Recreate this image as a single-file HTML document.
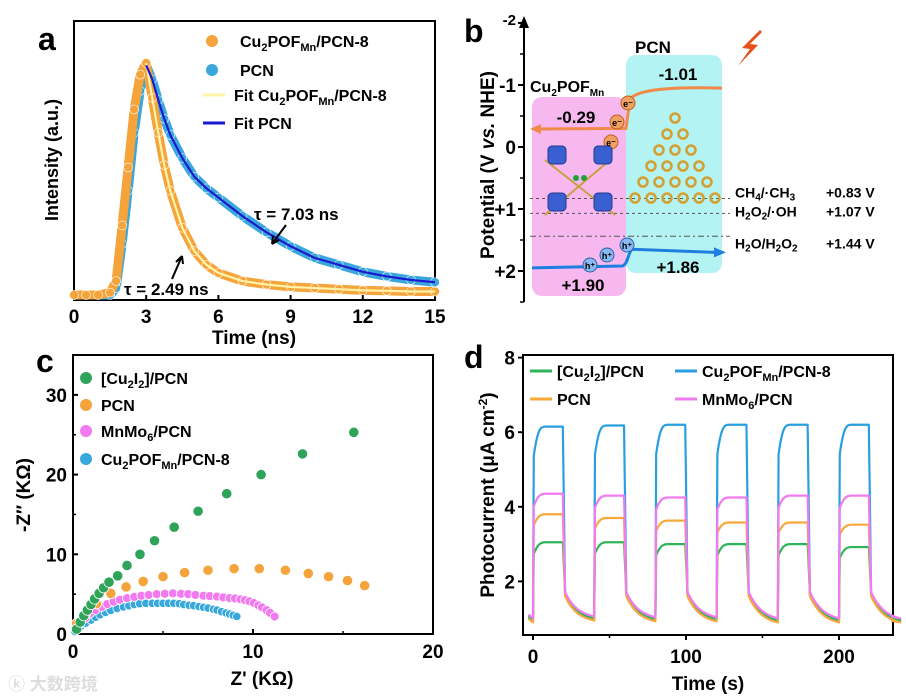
<!DOCTYPE html>
<html><head><meta charset="utf-8">
<style>
html,body{margin:0;padding:0;background:#fff;}
svg{display:block;font-family:"Liberation Sans",Arial,sans-serif;font-weight:bold;}
</style></head>
<body>
<svg id="fig" width="906" height="700" viewBox="0 0 906 700" xmlns="http://www.w3.org/2000/svg">
<text x="38" y="50" font-size="32">a</text>
<text x="464" y="42" font-size="32">b</text>
<text x="36" y="372" font-size="32">c</text>
<text x="464" y="368" font-size="32">d</text>

<g id="pa"></g>
<g id="pb"></g>
<g id="pc"></g>
<g id="pd"></g>
</svg>
<script>
// ---------- Panel a data ----------
const aTimes = [0,0.5,1,1.5,1.75,2,2.25,2.5,2.75,3,3.25,3.5,3.75,4,4.5,5,5.5,6,7,8,9,10,11,12,13,14,15];
const aCuPOF = [0,0,0,0.01,0.06,0.3,0.55,0.8,0.95,1.0,0.85,0.7,0.56,0.45,0.29,0.19,0.13,0.095,0.06,0.045,0.035,0.03,0.025,0.02,0.018,0.015,0.015];
const aPCN   = [0,0,0,0,0.03,0.22,0.45,0.7,0.88,0.99,0.93,0.84,0.76,0.69,0.59,0.51,0.46,0.42,0.34,0.27,0.21,0.16,0.13,0.1,0.08,0.065,0.055];
const aXTicks = [0,3,6,9,12,15];
// ---------- Panel b data ----------
const bTicks = [-2,-1,0,1,2];
const bRefLevels = [0.83,1.07,1.44];
// ---------- Panel c data ----------
const cGreenX = [0.2,0.4,0.6,0.8,1.0,1.2,1.45,1.7,2.0,2.48,3.0,3.72,4.53,5.62,6.95,8.54,10.45,12.75,15.6];
const cGreenY = [0.6,1.5,2.3,3.0,3.7,4.4,5.1,5.8,6.5,7.3,8.6,10.0,11.7,13.4,15.4,17.6,20.0,22.6,25.3];
const cOrangeX = [0.2,0.7,1.3,2.1,2.95,3.9,5.0,6.2,7.5,8.95,10.35,11.8,13.07,14.2,15.25,16.2];
const cOrangeY = [1.3,2.6,3.8,5.1,5.9,6.6,7.2,7.7,8.0,8.2,8.2,8.0,7.6,7.2,6.7,6.07];
const cPinkX = [0.15,0.4,0.7,0.95,1.25,1.6,1.9,2.25,2.6,3.0,3.4,3.8,4.2,4.65,5.1,5.55,6.0,6.4,6.8,7.25,7.6,8.0,8.35,8.7,9.0,9.3,9.55,9.8,10.05,10.3,10.5,10.75,10.95,11.2];
const cPinkY = [0.6,1.3,2.0,2.6,3.0,3.4,3.75,4.05,4.3,4.5,4.65,4.8,4.9,5.0,5.05,5.1,5.05,5.0,4.9,4.8,4.75,4.7,4.6,4.5,4.45,4.35,4.25,4.1,3.9,3.6,3.35,3.0,2.65,2.2];
const cBlueX = [0.1,0.2,0.45,0.7,1.0,1.25,1.5,1.8,2.1,2.45,2.8,3.1,3.4,3.7,4.05,4.4,4.7,5.0,5.3,5.6,5.9,6.15,6.45,6.7,7.0,7.25,7.5,7.8,8.0,8.25,8.5,8.7,8.9,9.1];
const cBlueY = [0.3,0.6,1.0,1.35,1.75,2.1,2.4,2.7,2.95,3.2,3.4,3.55,3.7,3.8,3.85,3.85,3.85,3.85,3.85,3.85,3.8,3.7,3.6,3.55,3.45,3.35,3.25,3.1,3.0,2.8,2.65,2.5,2.35,2.2];
const cXTicks = [0,10,20];
const cYTicks = [0,10,20,30];
// ---------- Panel d data ----------
const dCycleStarts = [0,40,80,120,160,200];
const dBlueOn   = [6.15,6.18,6.2,6.2,6.2,6.2];
const dPinkOn   = [4.35,4.3,4.25,4.25,4.3,4.3];
const dOrangeOn = [3.8,3.7,3.63,3.58,3.58,3.52];
const dGreenOn  = [3.05,3.05,3.0,3.0,3.0,2.92];
const dBase     = [0.95,1.0,0.98,0.98,0.95,0.95];
const dXTicks = [0,100,200];
const dYTicks = [2,4,6,8];

const NS="http://www.w3.org/2000/svg";
function mk(parent,tag,attrs,text){const e=document.createElementNS(NS,tag);for(const k in attrs)e.setAttribute(k,attrs[k]);if(text!==undefined)e.textContent=text;parent.appendChild(e);return e;}

// ================= PANEL A =================
(function(){
const g=document.getElementById('pa');
const X0=74,X1=435,Y0=21,Y1=300;
const sx=t=>X0+(t/15)*(X1-X0);
const sy=v=>295-v*232;
let f=mk(g,'rect',{x:X0,y:Y0,width:X1-X0,height:Y1-Y0,fill:'none',stroke:'#000','stroke-width':2});

aXTicks.forEach(t=>{
  let l=mk(g,'line',{x1:sx(t),x2:sx(t),y1:Y1,y2:Y1-5,stroke:'#000','stroke-width':2});
  
  let tx=mk(g,'text',{x:sx(t),y:323,'font-size':19,'text-anchor':'middle'},String(t));
  
});
function series(ys,col,name){
  const pts=aTimes.map((t,i)=>sx(t)+','+sy(ys[i])).join(' ');
  let pl=mk(g,'polyline',{points:pts,fill:'none',stroke:col,'stroke-width':9,'stroke-linejoin':'round'});
  
  aTimes.forEach((t,i)=>{let c=mk(g,'circle',{cx:sx(t),cy:sy(ys[i]),r:4.5,fill:col,stroke:'#fff','stroke-width':0.6});
  });
}
series(aPCN,'#3aa6dc','pcn');
series(aCuPOF,'#f4a43a','cupof');
function fit(ys,col,name,peakIdx){
  const pts=aTimes.slice(peakIdx).map((t,j)=>sx(t)+','+sy(ys[j+peakIdx])).join(' ');
  let pl=mk(g,'polyline',{points:pts,fill:'none',stroke:col,'stroke-width':2.2,'stroke-linejoin':'round'});
  
}
fit(aCuPOF,'#fff3a8','fit-cupof',9);
fit(aPCN,'#1a1ad0','fit-pcn',9);
let yt=mk(g,'text',{x:0,y:0,'font-size':18,'text-anchor':'middle',transform:'translate(58,160) rotate(-90)'},'Intensity (a.u.)');

let xt=mk(g,'text',{x:254,y:344,'font-size':19,'text-anchor':'middle'},'Time (ns)');

let t1=mk(g,'text',{x:254,y:220,'font-size':17},'τ = 7.03 ns');
let a1=mk(g,'path',{d:'M286,225 L272,244 M272,244 L273,236 M272,244 L279,240',stroke:'#000','stroke-width':2,fill:'none'});
let t2=mk(g,'text',{x:124,y:295,'font-size':17},'τ = 2.49 ns');
let a2=mk(g,'path',{d:'M172,279 L182,256 M182,256 L176,262 M182,256 L183,264',stroke:'#000','stroke-width':2,fill:'none'});
const L=[{y:47,t:'circ',c:'#f4a43a',s:'Cu<tspan font-size="11" dy="4">2</tspan><tspan dy="-4">POF</tspan><tspan font-size="11" dy="4">Mn</tspan><tspan dy="-4">/PCN-8</tspan>',x:240},
{y:76,t:'circ',c:'#3aa6dc',s:'PCN',x:240},
{y:101,t:'line',c:'#fff3a8',s:'Fit Cu<tspan font-size="11" dy="4">2</tspan><tspan dy="-4">POF</tspan><tspan font-size="11" dy="4">Mn</tspan><tspan dy="-4">/PCN-8</tspan>',x:234},
{y:129,t:'line',c:'#1a1ad0',s:'Fit PCN',x:234}];
L.forEach((e,i)=>{
  let m = e.t==='circ'? mk(g,'circle',{cx:212,cy:e.y-6,r:6,fill:e.c}) : mk(g,'line',{x1:203,x2:225,y1:e.y-6,y2:e.y-6,stroke:e.c,'stroke-width':3});
  
  let tx=mk(g,'text',{x:e.x,y:e.y,'font-size':16});tx.innerHTML=e.s;
  
});
})();

// ================= PANEL B =================
(function(){
const g=document.getElementById('pb');
const sy=v=>147+v*62;
let pk=mk(g,'rect',{x:532,y:97,width:94,height:199,rx:10,fill:'#f7b8f0'});
let cy=mk(g,'rect',{x:626,y:55,width:96,height:218,rx:10,fill:'#b3f3f3'});
let ax=mk(g,'line',{x1:524,x2:524,y1:20,y2:302,stroke:'#000','stroke-width':2});
let ar=mk(g,'path',{d:'M519,28 L524,16 L529,28 Z',fill:'#000'});
bTicks.forEach(v=>{
  let l=mk(g,'line',{x1:518,x2:524,y1:sy(v),y2:sy(v),stroke:'#000','stroke-width':2});
  let lm=mk(g,'line',{x1:520,x2:524,y1:sy(v+0.5),y2:sy(v+0.5),stroke:'#000','stroke-width':1.5});
  let lab = v<0? String(v) : (v===0?'0':'+'+v);
  let t=mk(g,'text',{x:516,y:sy(v)+7,'font-size': v===-2?15:19,'text-anchor':'end'},lab);
  if(v===-2){t.setAttribute('y',sy(v)+2);}
  
});
let yt=mk(g,'text',{x:0,y:0,'font-size':19,'text-anchor':'middle',transform:'translate(494,165) rotate(-90)'});
yt.innerHTML='Potential (V <tspan font-style="italic">vs.</tspan> NHE)';

bRefLevels.forEach((v,i)=>{
  let l=mk(g,'line',{x1:530,x2:730,y1:sy(v),y2:sy(v),stroke:'#555','stroke-width':1,'stroke-dasharray':i===2?'6,3,2,3':'3,3'});
  
});
const refLab=[['CH<tspan font-size="10" dy="3">4</tspan><tspan dy="-3">/·CH</tspan><tspan font-size="10" dy="3">3</tspan>','+0.83 V'],
['H<tspan font-size="10" dy="3">2</tspan><tspan dy="-3">O</tspan><tspan font-size="10" dy="3">2</tspan><tspan dy="-3">/·OH</tspan>','+1.07 V'],
['H<tspan font-size="10" dy="3">2</tspan><tspan dy="-3">O/H</tspan><tspan font-size="10" dy="3">2</tspan><tspan dy="-3">O</tspan><tspan font-size="10" dy="3">2</tspan>','+1.44 V']];
const refY=[sy(bRefLevels[0])-1,sy(bRefLevels[1])+3,sy(bRefLevels[2])+12];
refLab.forEach((r,i)=>{
  let t=mk(g,'text',{x:735,y:refY[i],'font-size':14});t.innerHTML=r[0];
  let v=mk(g,'text',{x:826,y:refY[i],'font-size':14},r[1]);
});
let cb=mk(g,'path',{d:`M722,${sy(-0.95)} C680,${sy(-0.97)} 640,${sy(-0.95)} 630,${sy(-0.78)} L626,${sy(-0.3)} L540,${sy(-0.29)}`,fill:'none',stroke:'#f08a4b','stroke-width':3});

let cba=mk(g,'path',{d:`M530,${sy(-0.29)} L541,${sy(-0.29)-5} L541,${sy(-0.29)+5} Z`,fill:'#f08a4b'});
let vb=mk(g,'path',{d:`M532,${sy(1.95)} L622,${sy(1.92)} C628,${sy(1.9)} 628,${sy(1.7)} 632,${sy(1.65)} L715,${sy(1.7)}`,fill:'none',stroke:'#1e7fe0','stroke-width':3});

let vba=mk(g,'path',{d:`M726,${sy(1.7)} L714,${sy(1.7)-5} L714,${sy(1.7)+5} Z`,fill:'#1e7fe0'});
const labs=[[653,53,'PCN',17],[678,80,'-1.01',17],[576,123,'-0.29',17],[583,291,'+1.90',17],[678,273,'+1.86',17]];
labs.forEach(l=>{let t=mk(g,'text',{x:l[0],y:l[1],'font-size':l[3],'text-anchor':'middle'},l[2]);});
let cl=mk(g,'text',{x:530,y:92,'font-size':16});cl.innerHTML='Cu<tspan font-size="10" dy="4">2</tspan><tspan dy="-4">POF</tspan><tspan font-size="10" dy="4">Mn</tspan>';

[[628,103],[617,122],[611,142]].forEach(p=>{let c=mk(g,'circle',{cx:p[0],cy:p[1],r:7,fill:'#f0a060',stroke:'#c06020','stroke-width':1});
let t=mk(g,'text',{x:p[0],y:p[1]+4,'font-size':9,'text-anchor':'middle'},'e⁻');});
[[590,265],[607,255],[627,245]].forEach(p=>{let c=mk(g,'circle',{cx:p[0],cy:p[1],r:7,fill:'#8ab8f0',stroke:'#3060b0','stroke-width':1});
let t=mk(g,'text',{x:p[0],y:p[1]+4,'font-size':9,'text-anchor':'middle'},'h⁺');});
let mol=mk(g,'g',{});
mk(mol,'path',{d:'M545,160 L615,215 M610,160 L545,215',stroke:'#c9a040','stroke-width':2});
[[557,155],[603,155],[557,202],[603,202]].forEach(p=>mk(mol,'rect',{x:p[0]-9,y:p[1]-9,width:18,height:18,rx:4,fill:'#3a5fd0',stroke:'#203a90'}));
mk(mol,'circle',{cx:576,cy:178,r:3,fill:'#20a040'});mk(mol,'circle',{cx:584,cy:178,r:3,fill:'#20a040'});
let tri=mk(g,'g',{});
for(let r=0;r<6;r++){for(let k=0;k<=r;k++){const x=675+(k-r/2)*16,y=118+r*16;mk(tri,'circle',{cx:x,cy:y,r:4.5,fill:'none',stroke:'#d4a030','stroke-width':2.5});}}
let bolt=mk(g,'path',{d:'M760,30 L742,48 L750,49 L738,66 L758,45 L750,44 L762,32 Z',fill:'#e8501a'});

})();

// ================= PANEL C =================
(function(){
const g=document.getElementById('pc');
const X0=73,X1=433,Y0=355,Y1=634;
const sx=v=>X0+v*18,sy=v=>Y1-v*7.97;
let f=mk(g,'rect',{x:X0,y:Y0,width:X1-X0,height:Y1-Y0,fill:'none',stroke:'#000','stroke-width':2});

cXTicks.forEach(v=>{let l=mk(g,'line',{x1:sx(v),x2:sx(v),y1:Y1,y2:Y1-5,stroke:'#000','stroke-width':2});
let lm=mk(g,'line',{x1:sx(v+5),x2:sx(v+5),y1:Y1,y2:Y1-3,stroke:'#000','stroke-width':1.5});
let t=mk(g,'text',{x:sx(v),y:Y1+24,'font-size':19,'text-anchor':'middle'},String(v));});
cYTicks.forEach(v=>{let l=mk(g,'line',{x1:X0,x2:X0+5,y1:sy(v),y2:sy(v),stroke:'#000','stroke-width':2});
let lm=mk(g,'line',{x1:X0,x2:X0+3,y1:sy(v+5),y2:sy(v+5),stroke:'#000','stroke-width':1.5});
let t=mk(g,'text',{x:X0-6,y:sy(v)+7,'font-size':19,'text-anchor':'end'},String(v));});
function ser(xs,ys,col,r,name){xs.forEach((x,i)=>{let c=mk(g,'circle',{cx:sx(x),cy:sy(ys[i]),r:r,fill:col,stroke:'#fff','stroke-width':0.8});});}
ser(cBlueX,cBlueY,'#36a8dc',4.2,'cupof-point');
ser(cPinkX,cPinkY,'#f27af0',4.5,'mnmo6-point');
ser(cOrangeX,cOrangeY,'#f4a43a',5.2,'pcn-point');
ser(cGreenX,cGreenY,'#2fa35a',5.2,'cu2i2-point');
const L=[[384,'#2fa35a','[Cu<tspan font-size="11" dy="4">2</tspan><tspan dy="-4">I</tspan><tspan font-size="11" dy="4">2</tspan><tspan dy="-4">]/PCN</tspan>'],
[411,'#f4a43a','PCN'],[437,'#f27af0','MnMo<tspan font-size="11" dy="4">6</tspan><tspan dy="-4">/PCN</tspan>'],[465,'#36a8dc','Cu<tspan font-size="11" dy="4">2</tspan><tspan dy="-4">POF</tspan><tspan font-size="11" dy="4">Mn</tspan><tspan dy="-4">/PCN-8</tspan>']];
L.forEach(e=>{let c=mk(g,'circle',{cx:86,cy:e[0]-6,r:6,fill:e[1]});
let t=mk(g,'text',{x:101,y:e[0],'font-size':16});t.innerHTML=e[2];});
let yt=mk(g,'text',{x:0,y:0,'font-size':19,'text-anchor':'middle',transform:'translate(30,495) rotate(-90)'},'-Z″ (KΩ)');
let xt=mk(g,'text',{x:262,y:685,'font-size':19,'text-anchor':'middle'},"Z' (KΩ)");
let wm=mk(g,'text',{x:8,y:690,'font-size':17,fill:'#ddd','font-family':'"Liberation Sans","Noto Sans CJK SC",sans-serif'},'ⓚ 大数跨境');
})();

// ================= PANEL D =================
(function(){
const g=document.getElementById('pd');
const X0=523,X1=893,Y0=355,Y1=635;
const sx=t=>533+t*1.53,sy=v=>656-v*37.3;
let f=mk(g,'rect',{x:X0,y:Y0,width:X1-X0,height:Y1-Y0,fill:'none',stroke:'#000','stroke-width':2});

dXTicks.forEach(v=>{let l=mk(g,'line',{x1:sx(v),x2:sx(v),y1:Y1,y2:Y1+5,stroke:'#000','stroke-width':2});
let lm=mk(g,'line',{x1:sx(v+50),x2:sx(v+50),y1:Y1,y2:Y1+3,stroke:'#000','stroke-width':1.5});
let t=mk(g,'text',{x:sx(v),y:Y1+28,'font-size':19,'text-anchor':'middle'},String(v));});
dYTicks.forEach(v=>{let l=mk(g,'line',{x1:X0,x2:X0-5,y1:sy(v),y2:sy(v),stroke:'#000','stroke-width':2});
let t=mk(g,'text',{x:X0-8,y:sy(v)+7,'font-size':19,'text-anchor':'end'},String(v));});
function ser(on,col,name,rise,off){
  let d='';
  dCycleStarts.forEach((t0,i)=>{
    const b=dBase[i]+off,v=on[i],nb=dBase[Math.min(i+1,dBase.length-1)]+off;
    d+=(i===0?`M${sx(-3)},${sy(b+0.1)} L${sx(t0)},${sy(b)}`:` L${sx(t0)},${sy(b)}`);
    d+=` L${sx(t0+0.5)},${sy(b+(v-b)*rise)} C${sx(t0+3)},${sy(v-0.05)} ${sx(t0+5)},${sy(v)} ${sx(t0+8)},${sy(v)} L${sx(t0+19.5)},${sy(v)}`;
    d+=` L${sx(t0+21)},${sy(1.65+off)} C${sx(t0+26)},${sy(1.2+off)} ${sx(t0+32)},${sy(nb+0.08)} ${sx(t0+40)},${sy(nb)}`;
  });
  d+=` L${sx(234)},${sy(1.0+off)}`;
  let p=mk(g,'path',{d:d,fill:'none',stroke:col,'stroke-width':2.2,'stroke-linejoin':'round'});
  
}
ser(dBlueOn,'#2a9fe0','cupof-line',0.85,-0.02);
ser(dGreenOn,'#2fb45a','cu2i2-line',0.85,0.02);
ser(dOrangeOn,'#f7a83a','pcn-line',0.9,-0.05);
ser(dPinkOn,'#f27af0','mnmo6-line',0.9,0.06);
const L=[[530,377,'#2fb45a','[Cu<tspan font-size="11" dy="4">2</tspan><tspan dy="-4">I</tspan><tspan font-size="11" dy="4">2</tspan><tspan dy="-4">]/PCN</tspan>'],
[675,377,'#2a9fe0','Cu<tspan font-size="11" dy="4">2</tspan><tspan dy="-4">POF</tspan><tspan font-size="11" dy="4">Mn</tspan><tspan dy="-4">/PCN-8</tspan>'],
[530,405,'#f7a83a','PCN'],[675,405,'#f27af0','MnMo<tspan font-size="11" dy="4">6</tspan><tspan dy="-4">/PCN</tspan>']];
L.forEach(e=>{let l=mk(g,'line',{x1:e[0],x2:e[0]+22,y1:e[1]-6,y2:e[1]-6,stroke:e[2],'stroke-width':3});
let t=mk(g,'text',{x:e[0]+27,y:e[1],'font-size':16});t.innerHTML=e[3];});
let yt=mk(g,'text',{x:0,y:0,'font-size':19,'text-anchor':'middle',transform:'translate(494,495) rotate(-90)'});
yt.innerHTML='Photocurrent (μA cm<tspan font-size="12" dy="-7">-2</tspan><tspan dy="7">)</tspan>';

let xt=mk(g,'text',{x:708,y:690,'font-size':19,'text-anchor':'middle'},'Time (s)');
})();
</script>
</body></html>
